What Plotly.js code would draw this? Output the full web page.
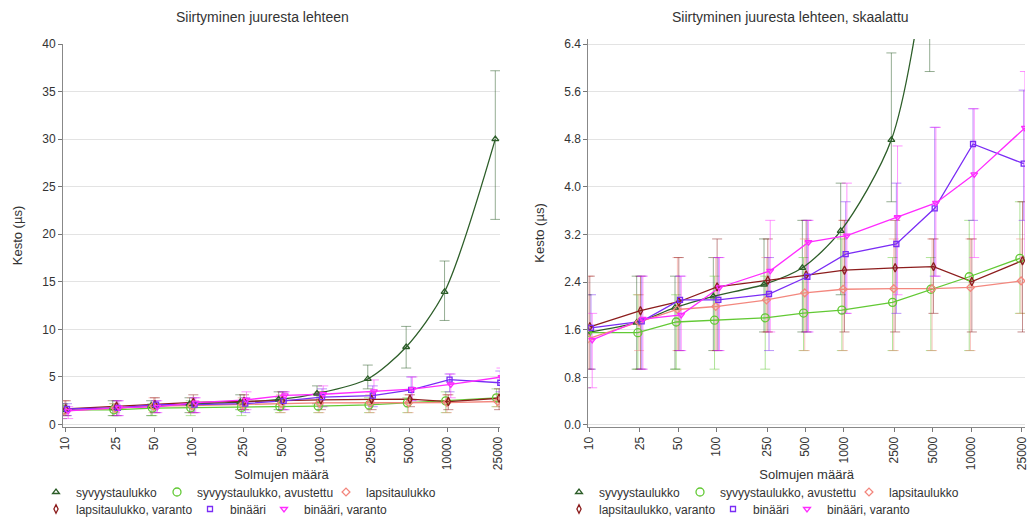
<!DOCTYPE html>
<html><head><meta charset="utf-8">
<script src="https://cdn.plot.ly/plotly-3.0.1.min.js"></script>
<style>html,body{margin:0;padding:0;background:#fff}#chart{width:1029px;height:517px}</style>
</head><body><div id="chart"></div>
<script>
// ---- data ----
const nodeCounts = [10, 25, 50, 100, 250, 500, 1000, 2500, 5000, 10000, 25000];
const tickLabels = ['10', '25', '50', '100', '250', '500', '1000', '2500', '5000', '10000', '25000'];
const seriesNames = ['syvyystaulukko', 'syvyystaulukko, avustettu', 'lapsitaulukko',
                     'lapsitaulukko, varanto', 'binääri', 'binääri, varanto'];

const syvyys      = [1.55, 1.72, 1.97, 2.16, 2.36, 2.64, 3.26, 4.79, 8.15, 13.95, 30.0];
const syvyysLo    = [0.625, 0.9375, 0.9375, 1.25, 1.5625, 1.5625, 2.1875, 3.75, 5.9375, 10.9375, 21.5625];
const syvyysHi    = [2.1875, 2.5, 2.5, 2.8125, 3.125, 3.4375, 4.0625, 6.25, 10.3125, 17.1875, 37.1875];

const avustettu   = [1.55, 1.55, 1.73, 1.76, 1.80, 1.88, 1.93, 2.06, 2.28, 2.49, 2.80];
const avustettuLo = [0.9375, 0.9375, 0.9375, 0.9375, 0.9375, 1.25, 1.25, 1.25, 1.25, 1.25, 1.875];
const avustettuHi = [2.1875, 2.1875, 2.1875, 2.5, 2.5, 2.8125, 3.125, 2.8125, 2.8125, 3.4375, 3.75];

const lapsi       = [1.45, 1.73, 1.94, 1.99, 2.10, 2.22, 2.28, 2.29, 2.29, 2.31, 2.42];
const lapsiLo     = [0.9375, 1.25, 1.25, 1.25, 1.5625, 1.25, 1.25, 1.25, 1.25, 1.25, 1.875];
const lapsiHi     = [2.5, 2.1875, 2.8125, 2.8125, 2.8125, 3.125, 3.4375, 3.125, 3.125, 3.125, 3.125];

const lapsiVar    = [1.65, 1.92, 2.07, 2.32, 2.43, 2.52, 2.60, 2.64, 2.66, 2.41, 2.76];
const lapsiVarLo  = [0.9375, 0.9375, 1.25, 1.25, 1.5625, 1.5625, 1.5625, 1.5625, 1.875, 1.5625, 1.5625];
const lapsiVarHi  = [2.5, 2.5, 2.8125, 3.125, 3.125, 3.4375, 3.4375, 3.4375, 3.125, 3.125, 3.75];

const binaari     = [1.63, 1.74, 2.10, 2.10, 2.20, 2.49, 2.87, 3.04, 3.64, 4.72, 4.39];
const binaariLo   = [0.9375, 0.9375, 1.25, 1.25, 1.25, 1.5625, 1.875, 1.875, 2.5, 3.4375, 3.4375];
const binaariHi   = [2.1875, 2.5, 2.5, 2.8125, 2.8125, 3.4375, 3.75, 4.0625, 5.0, 5.3125, 5.625];

const binVar      = [1.43, 1.78, 1.85, 2.31, 2.59, 3.07, 3.18, 3.49, 3.73, 4.21, 4.99];
const binVarLo    = [0.625, 0.9375, 1.25, 1.25, 1.5625, 1.5625, 1.875, 2.1875, 2.5, 2.8125, 2.8125];
const binVarHi    = [1.875, 2.5, 2.5, 2.8125, 3.4375, 3.4375, 4.0625, 4.6875, 5.0, 5.3125, 5.9375];

// ---- styling ----
const W = 1029, H = 517;
const FONT = 'Liberation Sans, Arial, sans-serif';
const styles = [
  {c: '#2d5e29', rgb: '45,94,41',   sym: 'triangle-up-open',   size: 6, spline: true},
  {c: '#62c934', rgb: '98,201,52',  sym: 'circle-open',        size: 8},
  {c: '#f3877e', rgb: '243,135,126',sym: 'diamond-open',       size: 6},
  {c: '#8c1d1d', rgb: '140,29,29',  sym: 'diamond-tall-open',  size: 6},
  {c: '#7a2cf5', rgb: '122,44,245', sym: 'square-open',        size: 5},
  {c: '#ff2bff', rgb: '255,43,255', sym: 'triangle-down-open', size: 6}
];
const values = [syvyys, avustettu, lapsi, lapsiVar, binaari, binVar];
const lows   = [syvyysLo, avustettuLo, lapsiLo, lapsiVarLo, binaariLo, binVarLo];
const highs  = [syvyysHi, avustettuHi, lapsiHi, lapsiVarHi, binaariHi, binVarHi];
const dodgePx = [-3, -1.8, -0.6, 0.8, 2, 3.2];
const PXDEC = 127.4;

// legend positions (px): symbol centres of reference
const legendSym = [[65, 186, 355], [65, 219, 293]];
const legendRowY = [492, 509];

const errTraces = [], lineTraces = [], markTraces = [];
let legendIdx = 1;
const legendLayouts = {};
[0, 1].forEach(k => {
  const xa = k ? 'x2' : 'x', ya = k ? 'y2' : 'y';
  const xOff = k ? 523 : 0;
  values.forEach((v, i) => {
    const st = styles[i];
    const xs = nodeCounts.map(n => n * Math.pow(10, dodgePx[i] / PXDEC));
    errTraces.push({
      type: 'scatter', mode: 'markers', x: xs, y: v, xaxis: xa, yaxis: ya,
      marker: {opacity: 0, size: 2, color: st.c}, showlegend: false, hoverinfo: 'skip',
      error_y: {type: 'data', symmetric: false,
        array: v.map((y, j) => highs[i][j] - y),
        arrayminus: v.map((y, j) => y - lows[i][j]),
        color: 'rgba(' + st.rgb + ',0.5)', thickness: 1, width: 5}
    });
    lineTraces.push({
      type: 'scatter', mode: 'lines', x: xs, y: v, xaxis: xa, yaxis: ya,
      line: {color: st.c, width: 1.3, shape: st.spline ? 'spline' : 'linear', smoothing: 0.8},
      showlegend: false, hoverinfo: 'skip'
    });
    const lname = legendIdx === 1 ? 'legend' : 'legend' + legendIdx;
    markTraces.push({
      type: 'scatter', mode: 'markers', x: xs, y: v, xaxis: xa, yaxis: ya,
      name: seriesNames[i], legend: lname,
      marker: {symbol: st.sym, size: st.size, color: st.c, line: {color: st.c, width: 1.3}}
    });
    const row = i < 3 ? 0 : 1, col = i % 3;
    const sx = legendSym[row][col] + xOff - 29;
    legendLayouts[lname] = {
      orientation: 'h', x: sx / W, xanchor: 'left', y: 1 - legendRowY[row] / H, yanchor: 'middle',
      font: {family: FONT, size: 12, color: '#333'}, bgcolor: 'rgba(0,0,0,0)',
      borderwidth: 0, itemwidth: 30, itemclick: false, itemdoubleclick: false
    };
    legendIdx++;
  });
});

const axisFont = {family: FONT, size: 12, color: '#333'};
function xaxisDef(domain, range, anchor) {
  return {
    type: 'log', domain: domain, range: range, anchor: anchor,
    tickmode: 'array', tickvals: nodeCounts, ticktext: tickLabels, tickangle: -90,
    ticks: 'outside', ticklen: 4, tickcolor: '#777', showgrid: false, zeroline: false,
    showline: true, linecolor: '#888', linewidth: 1, tickfont: axisFont,
    title: {text: 'Solmujen määrä', font: {family: FONT, size: 13, color: '#333'}, standoff: 0},
    automargin: false
  };
}
function yaxisDef(domain, range, dtick, fmt, anchor) {
  return {
    domain: domain, range: range, anchor: anchor, dtick: dtick, tick0: 0, tickformat: fmt,
    ticks: 'outside', ticklen: 4, tickcolor: '#777', showgrid: true, gridcolor: '#e3e3e3',
    zeroline: false, showline: true, linecolor: '#888', linewidth: 1, tickfont: axisFont,
    title: {text: 'Kesto (µs)', font: {family: FONT, size: 13, color: '#333'}, standoff: 16},
    automargin: false
  };
}

const layout = Object.assign({
  width: W, height: H, margin: {l: 0, r: 0, t: 0, b: 0, autoexpand: false},
  paper_bgcolor: '#fff', plot_bgcolor: '#fff',
  font: {family: FONT, size: 12, color: '#333'},
  xaxis:  xaxisDef([63 / W, 500 / W], [1 - 2 / PXDEC, Math.log10(25000) + 1.7 / PXDEC], 'y'),
  xaxis2: xaxisDef([588.3 / W, 1025 / W], [1 - 0.7 / PXDEC, Math.log10(25000) + 3.3 / PXDEC], 'y2'),
  yaxis:  yaxisDef([1 - 427 / H, 1 - 44 / H], [-0.26, 40], 5, 'd', 'x'),
  yaxis2: yaxisDef([1 - 427 / H, 1 - 39 / H], [-0.034, 6.484], 0.8, '.1f', 'x2'),
  showlegend: true,
  annotations: [
    {text: 'Siirtyminen juuresta lehteen', x: 262 / W, y: 1 - 17 / H, xref: 'paper', yref: 'paper',
     showarrow: false, xanchor: 'center', yanchor: 'middle', font: {family: FONT, size: 14, color: '#333'}},
    {text: 'Siirtyminen juuresta lehteen, skaalattu', x: 790 / W, y: 1 - 17 / H, xref: 'paper', yref: 'paper',
     showarrow: false, xanchor: 'center', yanchor: 'middle', font: {family: FONT, size: 14, color: '#333'}}
  ]
}, legendLayouts);

Plotly.newPlot('chart', errTraces.concat(lineTraces, markTraces), layout, {displayModeBar: false, staticPlot: true});
</script></body></html>
